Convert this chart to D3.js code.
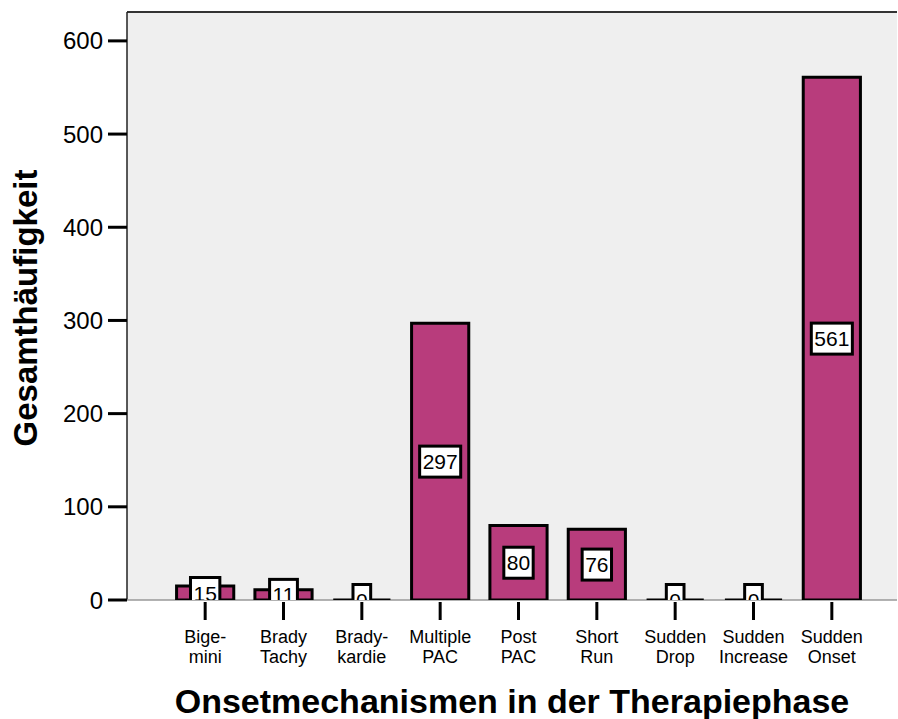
<!DOCTYPE html>
<html>
<head>
<meta charset="utf-8">
<script src="https://cdn.jsdelivr.net/npm/d3@7"></script>
<style>
  body { margin: 0; background: #fff; }
  text { font-family: "Liberation Sans", Arial, sans-serif; }
</style>
</head>
<body>
<div id="vis"></div>
<script>
// categories (two-line labels) and counts
const categories = ['Bigemini', 'BradyTachy', 'Bradykardie', 'MultiplePAC', 'PostPAC',
  'ShortRun', 'SuddenDrop', 'SuddenIncrease', 'SuddenOnset'];
const labelLines = [['Bige-', 'mini'], ['Brady', 'Tachy'], ['Brady-', 'kardie'], ['Multiple', 'PAC'],
  ['Post', 'PAC'], ['Short', 'Run'], ['Sudden', 'Drop'], ['Sudden', 'Increase'], ['Sudden', 'Onset']];
const counts = [15, 11, 0, 297, 80, 76, 0, 0, 561];
const yTicks = [0, 100, 200, 300, 400, 500, 600];

const width = 898;
const height = 719;
const plot = { left: 127, top: 12, right: 897, bottom: 600 };
const barColor = '#b83c7c';

const svg = d3.select('#vis')
  .append('svg')
  .attr('width', width)
  .attr('height', height);

const x = d3.scaleBand()
  .domain(categories)
  .range([166, 871])
  .paddingInner(0.27)
  .paddingOuter(0.135);

const y = d3.scaleLinear()
  .domain([0, 631])
  .range([plot.bottom, plot.top]);

// plot background
svg.append('rect')
  .attr('x', plot.left)
  .attr('y', plot.top)
  .attr('width', plot.right - plot.left)
  .attr('height', plot.bottom - plot.top)
  .attr('fill', '#efefef');

svg.append('line')
  .attr('x1', plot.left).attr('x2', plot.right)
  .attr('y1', plot.top).attr('y2', plot.top)
  .attr('stroke', '#333').attr('stroke-width', 2);
svg.append('line')
  .attr('x1', plot.left).attr('x2', plot.left)
  .attr('y1', plot.top).attr('y2', plot.bottom)
  .attr('stroke', '#222').attr('stroke-width', 1.5);
svg.append('line')
  .attr('x1', plot.left).attr('x2', plot.right)
  .attr('y1', plot.bottom).attr('y2', plot.bottom)
  .attr('stroke', '#999').attr('stroke-width', 1.5);

svg.append('defs').append('clipPath')
  .attr('id', 'clip')
  .append('rect')
  .attr('x', plot.left)
  .attr('y', plot.top)
  .attr('width', plot.right - plot.left)
  .attr('height', plot.bottom - plot.top);

// y axis ticks
const yAxis = svg.append('g');
yAxis.selectAll('line')
  .data(yTicks)
  .enter()
  .append('line')
  .attr('x1', 108).attr('x2', plot.left)
  .attr('y1', d => y(d)).attr('y2', d => y(d))
  .attr('stroke', '#000').attr('stroke-width', 3);
yAxis.selectAll('text')
  .data(yTicks)
  .enter()
  .append('text')
  .attr('x', 103)
  .attr('y', d => y(d) + 8.5)
  .attr('text-anchor', 'end')
  .style('font-size', '24px')
  .text(d => d);

// bars, drawn as paths so zero counts still show a line
const bars = svg.append('g').attr('clip-path', 'url(#clip)');
bars.selectAll('path')
  .data(categories)
  .enter()
  .append('path')
  .attr('d', (d, i) => {
    const x0 = x(d);
    const x1 = x(d) + x.bandwidth();
    const y0 = y(0);
    const y1 = y(counts[i]);
    return `M${x0},${y0}V${y1}H${x1}V${y0}Z`;
  })
  .attr('fill', barColor)
  .attr('stroke', '#000')
  .attr('stroke-width', 3);

// value labels in boxes at the middle of each bar
const labels = bars.selectAll('g.lab')
  .data(categories)
  .enter()
  .append('g')
  .attr('class', 'lab')
  .attr('transform', (d, i) => {
    const cx = x(d) + x.bandwidth() / 2;
    const cy = (y(0) + y(counts[i])) / 2;
    return `translate(${cx},${cy})`;
  });
labels.append('rect').attr('fill', '#fff').attr('stroke', '#000').attr('stroke-width', 3);
labels.append('text')
  .attr('text-anchor', 'middle')
  .attr('y', 7.5)
  .style('font-size', '21px')
  .text((d, i) => counts[i]);
labels.each(function() {
  const g = d3.select(this);
  const w = g.select('text').node().getComputedTextLength() + 6;
  g.select('rect')
    .attr('x', -w / 2)
    .attr('y', -15.5)
    .attr('width', w)
    .attr('height', 31);
});

// x ticks and category labels
const xAxis = svg.append('g');
xAxis.selectAll('line')
  .data(categories)
  .enter()
  .append('line')
  .attr('x1', d => x(d) + x.bandwidth() / 2)
  .attr('x2', d => x(d) + x.bandwidth() / 2)
  .attr('y1', plot.bottom + 2).attr('y2', 620)
  .attr('stroke', '#000').attr('stroke-width', 3);
const catText = xAxis.selectAll('text')
  .data(categories)
  .enter()
  .append('text')
  .attr('text-anchor', 'middle')
  .style('font-size', '18px');
catText.each(function(d, i) {
  const t = d3.select(this);
  labelLines[i].forEach((line, j) => {
    t.append('tspan')
      .attr('x', x(d) + x.bandwidth() / 2)
      .attr('y', 643 + j * 20)
      .text(line);
  });
});

// axis titles
svg.append('text')
  .attr('transform', `translate(37,${(plot.top + plot.bottom) / 2 + 2}) rotate(-90)`)
  .attr('text-anchor', 'middle')
  .style('font-size', '33px')
  .style('font-weight', 'bold')
  .text('Gesamthäufigkeit');

svg.append('text')
  .attr('x', (plot.left + plot.right) / 2)
  .attr('y', 713)
  .attr('text-anchor', 'middle')
  .style('font-size', '34px')
  .style('font-weight', 'bold')
  .text('Onsetmechanismen in der Therapiephase');
</script>
</body>
</html>
